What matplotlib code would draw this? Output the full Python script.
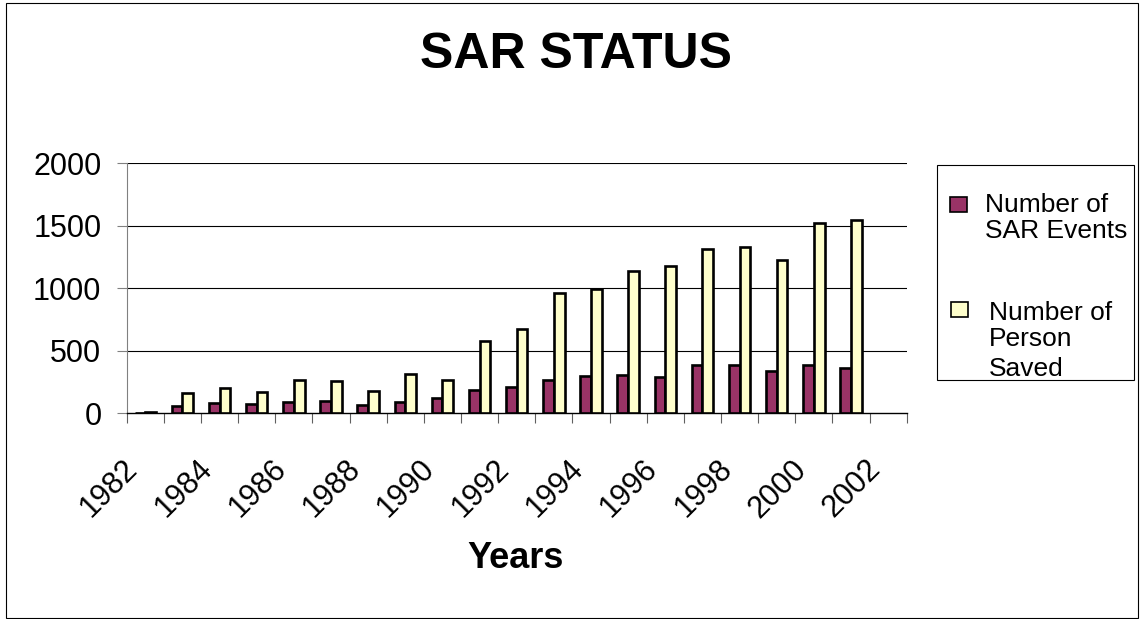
import matplotlib
matplotlib.use("Agg")
import matplotlib.pyplot as plt
import matplotlib.transforms as mtransforms
from matplotlib.patches import Rectangle
import numpy as np

years = list(range(1982, 2003))
sar_events = [5, 59, 80, 75, 91, 96, 64, 91, 120, 187, 213, 264, 296, 309, 288, 389, 387, 341, 387, 365, None]
persons_saved = [10, 163, 200, 168, 267, 259, 179, 317, 264, 579, 677, 960, 997, 1139, 1176, 1312, 1333, 1229, 1520, 1544, None]
tick_labels = [str(y) for y in range(1982, 2003, 2)]
yticks = [0, 500, 1000, 1500, 2000]

plt.rcParams['font.family'] = ['Liberation Sans', 'DejaVu Sans']

W, H = 1143, 619
fig = plt.figure(figsize=(W / 100, H / 100), dpi=100)
ax = fig.add_axes([126.7 / W, (H - 413.3) / H, 780 / W, 250 / H])

x = np.arange(len(years))
ev = np.array([np.nan if v is None else v for v in sar_events], dtype=float)
ps = np.array([np.nan if v is None else v for v in persons_saved], dtype=float)
bw = 0.29
ax.bar(x - bw / 2, ev, width=bw, color='#993366', edgecolor='black', linewidth=1.9, zorder=3)
ax.bar(x + bw / 2, ps, width=bw, color='#FFFFCC', edgecolor='black', linewidth=1.9, zorder=3)

ax.set_xlim(-0.5, len(years) - 0.5)
ax.set_ylim(0, 2000)
ax.set_yticks(yticks)
ax.set_yticklabels([str(v) for v in yticks], fontsize=22)
ax.tick_params(axis='y', direction='out', length=7.2, width=0.8, color='#808080', pad=11)
for v in yticks[1:]:
    ax.axhline(v, color='black', linewidth=0.8, zorder=1)

ax.set_xticks(x[::2])
ax.set_xticklabels(tick_labels, fontsize=22, rotation=45, ha='right', va='center',
                   rotation_mode='anchor')
ax.set_xticks(np.arange(-0.5, len(years)), minor=True)
ax.tick_params(axis='x', which='major', length=0, pad=37)
ax.tick_params(axis='x', which='minor', direction='out', length=7.2, width=0.8, color='#606060')
offset = mtransforms.ScaledTranslation(-12 / 100, 0, fig.dpi_scale_trans)
for lbl in ax.get_xticklabels():
    lbl.set_transform(lbl.get_transform() + offset)

for s in ['top', 'right']:
    ax.spines[s].set_visible(False)
ax.spines['left'].set_color('#808080')
ax.spines['left'].set_linewidth(0.8)
ax.spines['bottom'].set_color('black')
ax.spines['bottom'].set_linewidth(1.0)

def fx(px):
    return px / W

def fy(py):
    return (H - py) / H

fig.text(fx(576), fy(55), 'SAR STATUS', fontsize=36, fontweight='bold', ha='center', va='center')
fig.text(fx(516), fy(558), 'Years', fontsize=26, fontweight='bold', ha='center', va='center')

# legend box
fig.patches.append(Rectangle((fx(937), fy(380)), fx(1134) - fx(937), fy(165) - fy(380),
                             transform=fig.transFigure, fill=False, edgecolor='black', linewidth=0.8))
fig.patches.append(Rectangle((fx(950), fy(212)), fx(17), 15 / H, transform=fig.transFigure,
                             facecolor='#993366', edgecolor='black', linewidth=1.2))
fig.patches.append(Rectangle((fx(951), fy(317)), fx(17), 15 / H, transform=fig.transFigure,
                             facecolor='#FFFFCC', edgecolor='black', linewidth=1.2))
leg_fs = 19
fig.text(fx(985), fy(212), 'Number of', fontsize=leg_fs, ha='left', va='baseline')
fig.text(fx(985), fy(238), 'SAR Events', fontsize=leg_fs, ha='left', va='baseline')
fig.text(fx(989), fy(320), 'Number of', fontsize=leg_fs, ha='left', va='baseline')
fig.text(fx(989), fy(346), 'Person', fontsize=leg_fs, ha='left', va='baseline')
fig.text(fx(989), fy(376), 'Saved', fontsize=leg_fs, ha='left', va='baseline')

# outer border
fig.patches.append(Rectangle((fx(6), fy(618)), fx(1138) - fx(6), fy(3) - fy(618),
                             transform=fig.transFigure, fill=False, edgecolor='black', linewidth=0.8))

fig.savefig('out.png', dpi=100)
